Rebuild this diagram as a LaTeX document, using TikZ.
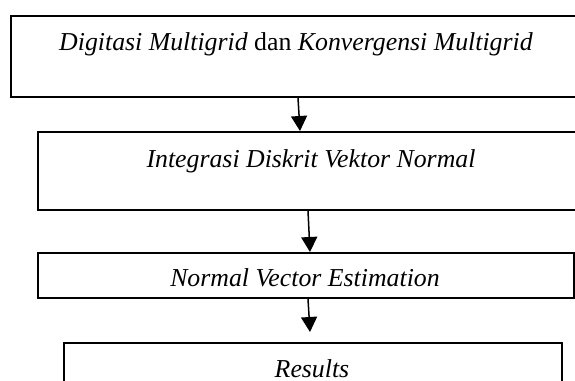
\documentclass[tikz,border=0pt]{standalone}
\usepackage{fontspec}
\setmainfont{Liberation Serif}
\usetikzlibrary{arrows.meta}
\begin{document}
\begin{tikzpicture}[x=1pt,y=-1pt,
  box/.style={draw=black, line width=2pt, rectangle, inner sep=0pt, anchor=north west},
  lbl/.style={anchor=base, inner sep=0pt, font=\fontsize{25.8}{30}\selectfont},
  arr/.style={draw=black, line width=1.5pt, -{Triangle[length=15pt,width=16pt]}}]
\useasboundingbox (0,0) rectangle (575,380);
\clip (0,0) rectangle (575,380);
\node[box, minimum width=580pt, minimum height=81pt] (b1) at (10,15) {};
\node[box, minimum width=555pt, minimum height=78pt] (b2) at (37,131) {};
\node[box, minimum width=536pt, minimum height=45pt] (b3) at (37,252) {};
\node[box, minimum width=498pt, minimum height=60pt] (b4) at (63,342) {};
\node[lbl] (t1) at (296,50) {\textit{Digitasi Multigrid} dan \textit{Konvergensi Multigrid}};
\node[lbl] (t2) at (311,167) {\textit{Integrasi Diskrit Vektor Normal}};
\node[lbl] (t3) at (305,286) {\textit{Normal Vector Estimation}};
\node[lbl] (t4) at (312,377) {\textit{Results}};
\coordinate (c3) at (310,332);
\draw[arr] ([xshift=288pt]b1.south west) -- ([xshift=263pt]b2.north west);
\draw[arr] ([xshift=271pt]b2.south west) -- ([xshift=273pt]b3.north west);
\draw[arr] ([xshift=271pt]b3.south west) -- (c3);
\end{tikzpicture}
\end{document}
